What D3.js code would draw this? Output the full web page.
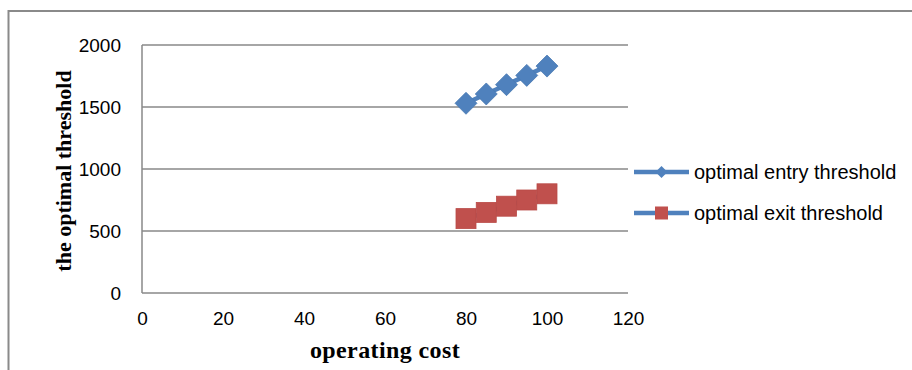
<!DOCTYPE html>
<html><head><meta charset="utf-8">
<script src="https://cdn.jsdelivr.net/npm/d3@7"></script>
<style>body{margin:0;background:#fff}svg{display:block}</style>
</head><body>
<script>
const costs = [80, 85, 90, 95, 100];
const entryThreshold = [1530, 1605, 1680, 1755, 1830];
const exitThreshold = [600, 650, 700, 750, 800];
const xTicks = [0, 20, 40, 60, 80, 100, 120];
const yTicks = [0, 500, 1000, 1500, 2000];
const seriesNames = ["optimal entry threshold", "optimal exit threshold"];

const W = 912, H = 370;
const svg = d3.select("body").append("svg").attr("width", W).attr("height", H);
const blue = "#4F81BD", red = "#C0504D", grid = "#898989";

// outer frame
svg.append("path").attr("d", `M8.5,${H} V11 H${W}`).attr("fill", "none").attr("stroke", "#8a8a8a").attr("stroke-width", 2);

const x = d3.scaleLinear().domain([0, 120]).range([142, 628]);
const y = d3.scaleLinear().domain([0, 2000]).range([293, 45]);

// gridlines
svg.append("g").selectAll("line").data(yTicks).join("line")
  .attr("x1", x(0)).attr("x2", x(120)).attr("y1", d => y(d)).attr("y2", d => y(d))
  .attr("stroke", grid).attr("stroke-width", 1.5);
svg.append("line").attr("x1", x(0)).attr("x2", x(0)).attr("y1", y(0)).attr("y2", y(2000))
  .attr("stroke", grid).attr("stroke-width", 1.5);

// axes labels via d3 axes
const fmt = d3.format("d");
const yAxis = svg.append("g").attr("transform", `translate(${x(0)},0)`)
  .call(d3.axisLeft(y).tickValues(yTicks).tickFormat(fmt).tickSize(0).tickPadding(21));
const xAxis = svg.append("g").attr("transform", `translate(0,${y(0)})`)
  .call(d3.axisBottom(x).tickValues(xTicks).tickFormat(fmt).tickSize(0).tickPadding(19));
[yAxis, xAxis].forEach(a => {
  a.select(".domain").remove();
  a.selectAll("text").attr("font-family", "Liberation Sans, Arial, sans-serif").attr("font-size", 19).attr("fill", "#000");
});

// series lines
const line = d3.line().x(d => x(d[0])).y(d => y(d[1]));
const entryPts = costs.map((c, i) => [c, entryThreshold[i]]);
const exitPts = costs.map((c, i) => [c, exitThreshold[i]]);
svg.append("path").datum(exitPts).attr("d", line).attr("fill", "none").attr("stroke", blue).attr("stroke-width", 4.5);
svg.append("path").datum(entryPts).attr("d", line).attr("fill", "none").attr("stroke", blue).attr("stroke-width", 4.5);

const diamond = (cx, cy, r) => `M${cx},${cy - r} L${cx + r},${cy} L${cx},${cy + r} L${cx - r},${cy} Z`;
svg.append("g").selectAll("path").data(entryPts).join("path")
  .attr("d", d => diamond(x(d[0]), y(d[1]), 11)).attr("fill", blue).attr("stroke", "#4a7ab3").attr("stroke-width", 0.8);
svg.append("g").selectAll("rect").data(exitPts).join("rect")
  .attr("x", d => x(d[0]) - 10).attr("y", d => y(d[1]) - 10).attr("width", 20).attr("height", 20)
  .attr("fill", red).attr("stroke", "#b94a47").attr("stroke-width", 0.8);

// axis titles
svg.append("text").attr("x", 385).attr("y", 358).attr("text-anchor", "middle")
  .attr("font-family", "Liberation Serif, Times New Roman, serif").attr("font-weight", "bold")
  .attr("font-size", 24).attr("letter-spacing", 0.4).attr("fill", "#000").text("operating cost");
svg.append("text").attr("transform", "translate(71,171) rotate(-90)").attr("text-anchor", "middle")
  .attr("font-family", "Liberation Serif, Times New Roman, serif").attr("font-weight", "bold")
  .attr("font-size", 22).attr("fill", "#000").text("the optimal threshold");

// legend
const legY = [172, 213];
const leg = svg.append("g");
seriesNames.forEach((name, i) => {
  const g = leg.append("g");
  g.append("line").attr("x1", 634).attr("x2", 689).attr("y1", legY[i]).attr("y2", legY[i])
    .attr("stroke", blue).attr("stroke-width", 4.5);
  if (i === 0) g.append("path").attr("d", diamond(661.5, legY[i], 6)).attr("fill", blue);
  else g.append("rect").attr("x", 655).attr("y", legY[i] - 6.5).attr("width", 13).attr("height", 13).attr("fill", red);
  g.append("text").attr("x", 694).attr("y", legY[i]).attr("dy", "0.35em")
    .attr("font-family", "Liberation Sans, Arial, sans-serif").attr("font-size", 20).attr("fill", "#000").text(name);
});
</script>
</body></html>
